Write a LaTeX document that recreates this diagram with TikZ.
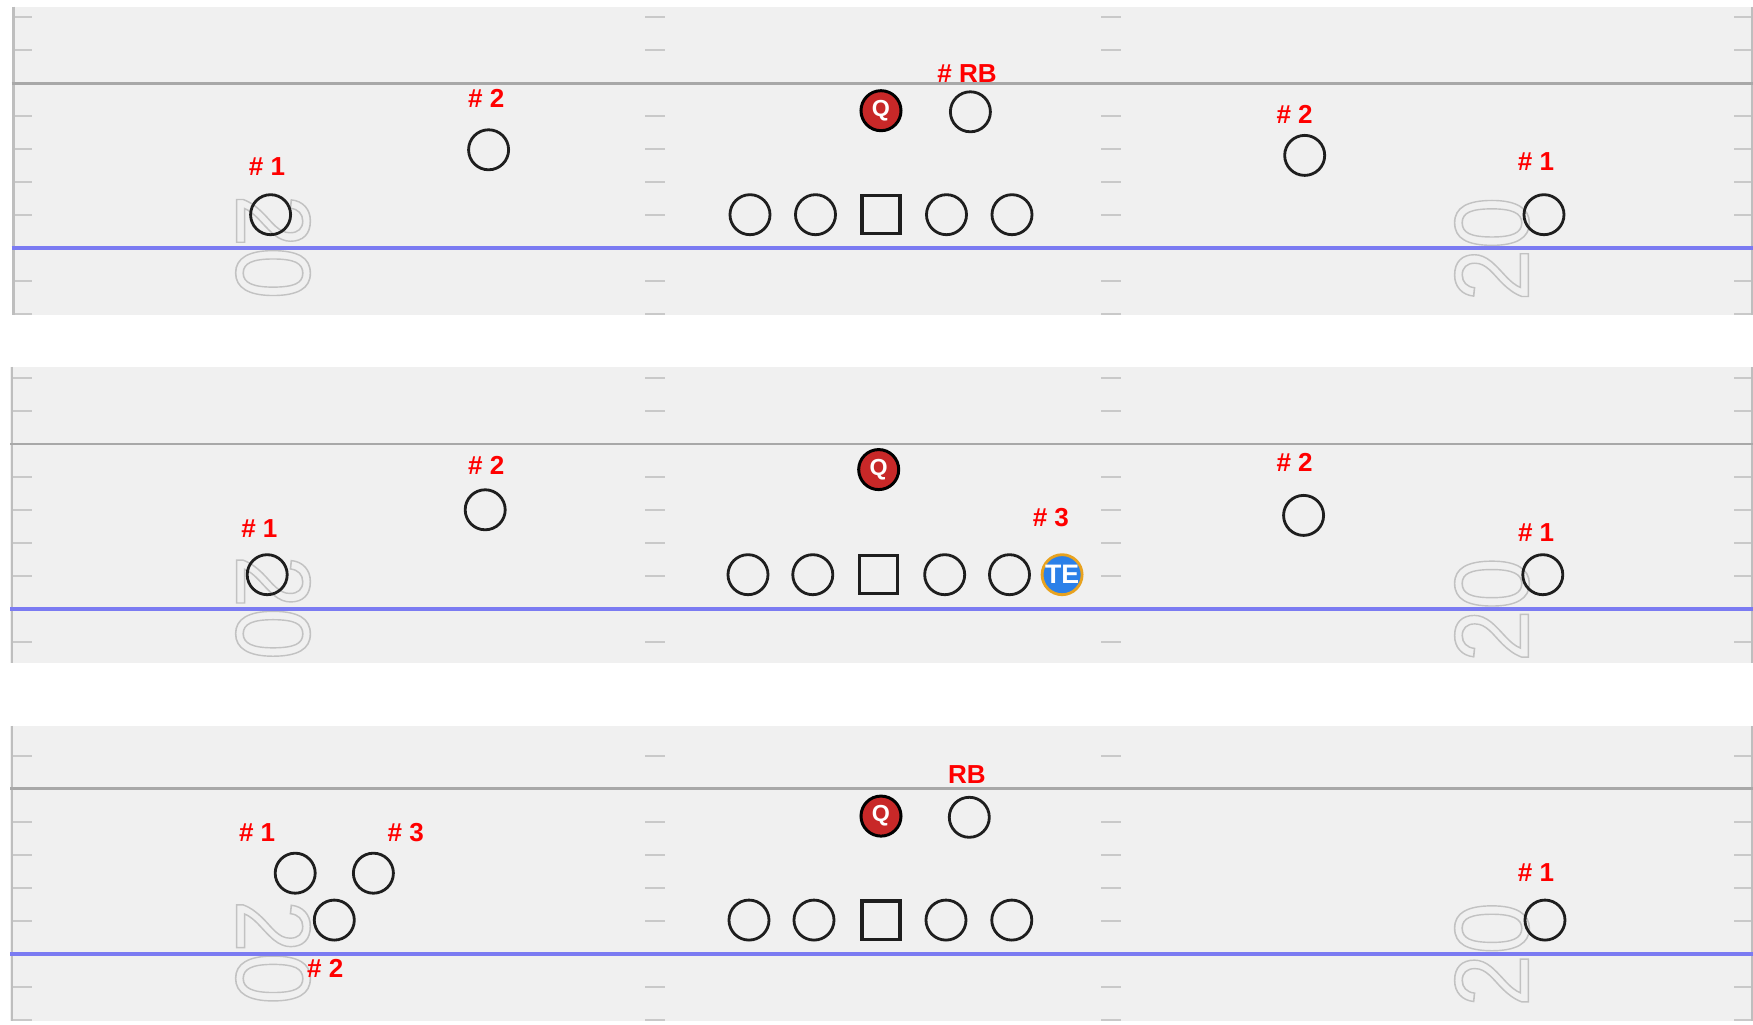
\documentclass[tikz,border=0pt]{standalone}
\usepackage{fontspec}
\setmainfont{Liberation Sans}
\definecolor{FBTurf}{HTML}{F0F0F0}
\definecolor{FBHash}{HTML}{C9C9C9}
\definecolor{FBSide}{HTML}{BEBEBE}
\definecolor{FBYard}{HTML}{A8A8A8}
\definecolor{FBScrim}{HTML}{7B7BF2}
\definecolor{FBNum}{HTML}{C2C2C2}
\definecolor{FBInk}{HTML}{1E1E1E}
\definecolor{FBQB}{HTML}{C82828}
\definecolor{FBTE}{HTML}{2B80E8}
\definecolor{FBTERim}{HTML}{E8A21E}
\definecolor{FBTag}{HTML}{FF0000}
\tikzset{
  player/.style={circle,draw=FBInk,line width=.8pt,minimum size=4mm,inner sep=0pt},
  ctrbox/.style={rectangle,draw=FBInk,line width=.9pt,minimum size=3.8mm,inner sep=0pt},
  qb/.style={player,draw=black,line width=.85pt,fill=FBQB,text=white,
             font=\fontsize{6.6}{7}\selectfont\bfseries},
  te/.style={player,draw=FBTERim,fill=FBTE,text=white,
             font=\fontsize{7.6}{8}\selectfont\bfseries},
  tag/.style={text=FBTag,font=\fontsize{7.4}{9}\selectfont\bfseries,inner sep=0pt},
  yardnum/.style={text=FBNum,font=\fontsize{30}{30}\selectfont,inner sep=0pt},
  hash/.style={FBHash,line width=.55pt},
}
% hollow (stroked only) text
\newcommand{\hollow}[1]{\special{pdf:literal direct 1 Tr 0.45 w}#1\special{pdf:literal direct 0 Tr 0.4 w}}
% one strip of field: #1 top, #2 bottom, #3 left edge, #4 name prefix
\newcommand{\fieldstrip}[4]{%
  \begin{scope}
    \clip (#3,#1) rectangle (1753,#2);
    \fill[FBTurf] (#3,#1) rectangle (1753,#2);
    \node[yardnum,rotate=-90,xscale=.89] (#4numl) at (273,247) {\hollow{20}};
    \node[yardnum,rotate=90,xscale=.89] (#4numr) at (1492,249) {\hollow{20}};
    \foreach \k in {0,...,9}{
      \foreach \hx in {12,645,1101,1734}{
        \draw[hash] (\hx,17.3+33*\k) -- ++(20,0);
      }
    }
    \draw[FBSide,line width=.85pt] (#3+2,#1) -- (#3+2,#2);
    \draw[FBSide,line width=.6pt] (1752,#1) -- (1752,#2);
    \draw[FBYard,line width=.8pt] (#3,83.3) -- (1753,83.3);
    \draw[FBScrim,line width=1.1pt] (#3,248.3) -- (1753,248.3);
  \end{scope}}

\begin{document}
\begin{tikzpicture}[x=.01cm,y=-.01cm]
  \useasboundingbox (0,0) rectangle (1753,1025);
  \fill[white] (0,0) rectangle (1753,1025);

  % first set: twins with RB offset
  \begin{scope}
    \fieldstrip{6.7}{314.7}{11.7}{a}
    \node[player] (awl) at (270.6,214.7) {};
    \node[player] (asl) at (488.6,149.8) {};
    \node[qb] (aqb) at (881,110.7) {Q};
    \node[player] (arb) at (970.4,111.8) {};
    \foreach \x/\n in {750/lt,815.5/lg,946.5/rg,1012/rt}
      \node[player] (a\n) at (\x,214.7) {};
    \node[ctrbox] (ac) at (881,214.7) {};
    \node[player] (asr) at (1304.7,155.4) {};
    \node[player] (awr) at (1544,214.7) {};
    \node[tag] (awlt) at (267,166.6) {\# 1};
    \node[tag] (aslt) at (486.3,98.4) {\# 2};
    \node[tag] (arbt) at (967,73.8) {\# RB};
    \node[tag] (asrt) at (1294.6,114) {\# 2};
    \node[tag] (awrt) at (1536,162) {\# 1};
  \end{scope}

  % second set: tight end on the right
  \begin{scope}[shift={(0,360.7)}]
    \fieldstrip{6.3}{302}{10}{b}
    \node[player] (bwl) at (267.2,214) {};
    \node[player] (bsl) at (485.2,149.1) {};
    \node[qb] (bqb) at (878.7,108.9) {Q};
    \foreach \x/\n in {748/lt,812.8/lg,944.7/rg,1009.5/rt}
      \node[player] (b\n) at (\x,214) {};
    \node[ctrbox] (bc) at (878.7,214) {};
    \node[te] (bte) at (1062.1,214) {TE};
    \node[player] (bsr) at (1303.6,154.7) {};
    \node[player] (bwr) at (1542.8,214) {};
    \node[tag] (bwlt) at (259.4,168.1) {\# 1};
    \node[tag] (bslt) at (486.3,104.4) {\# 2};
    \node[tag] (btet) at (1050.9,156.9) {\# 3};
    \node[tag] (bsrt) at (1294.6,102.2) {\# 2};
    \node[tag] (bwrt) at (1536.1,171.5) {\# 1};
  \end{scope}

  % third set: trips bunch on the left
  \begin{scope}[shift={(0,705.4)}]
    \fieldstrip{20.6}{316}{10}{c}
    \node[player] (cwl) at (295.2,167.8) {};
    \node[player] (cil) at (373.4,167.8) {};
    \node[player] (csl) at (334.3,214.7) {};
    \node[qb] (cqb) at (881,110.7) {Q};
    \node[player] (crb) at (969.3,111.9) {};
    \foreach \x/\n in {749/lt,814/lg,946/rg,1011.8/rt}
      \node[player] (c\n) at (\x,214.7) {};
    \node[ctrbox] (cc) at (881,214.7) {};
    \node[player] (cwr) at (1545,214.7) {};
    \node[tag] (cwlt) at (257.1,127.5) {\# 1};
    \node[tag] (cilt) at (405.8,127.5) {\# 3};
    \node[tag] (cslt) at (325.3,262.8) {\# 2};
    \node[tag] (crbt) at (967,69.4) {RB};
    \node[tag] (cwrt) at (1536,166.7) {\# 1};
  \end{scope}
\end{tikzpicture}
\end{document}
